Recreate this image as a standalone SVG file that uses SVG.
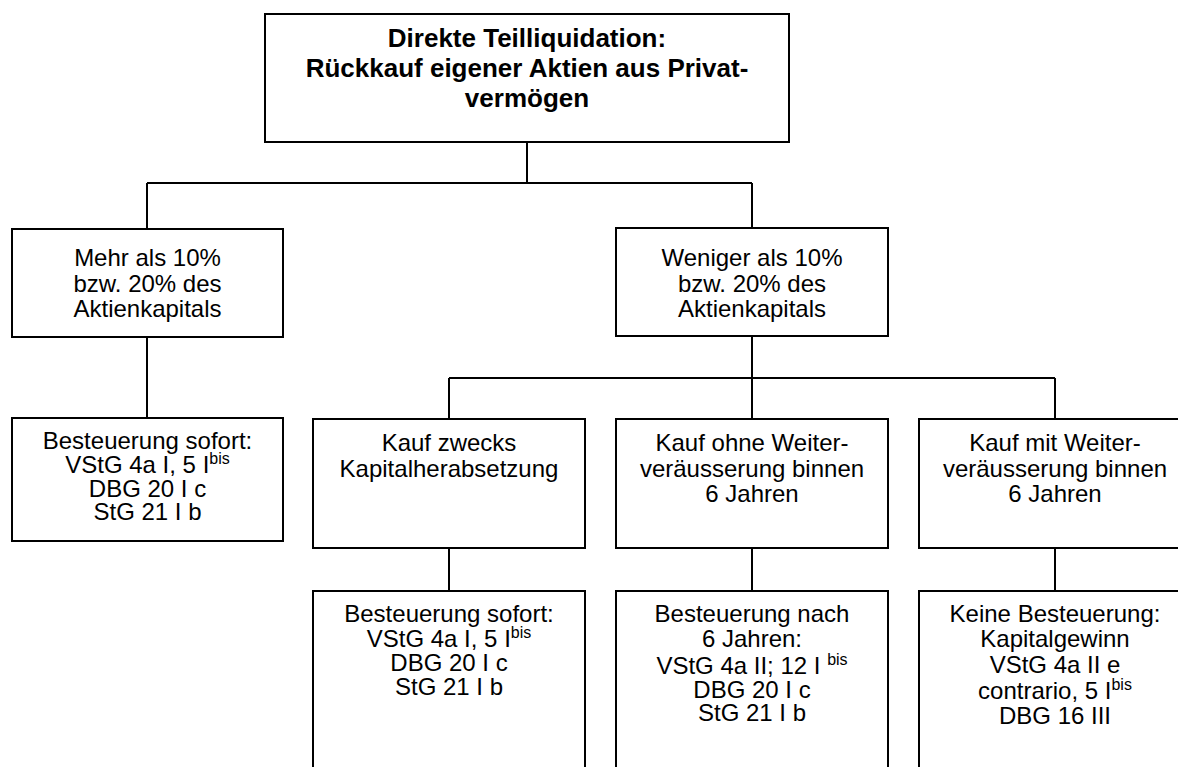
<svg xmlns="http://www.w3.org/2000/svg" width="1178" height="767" viewBox="0 0 1178 767">
<style>
.box{fill:#fff;stroke:#000;stroke-width:2}
.c{fill:none;stroke:#000;stroke-width:2}
text{font-family:"Liberation Sans",Arial,sans-serif;font-size:24px;fill:#000;text-anchor:middle}
.t{font-weight:bold;font-size:26px}
.sup{font-size:16px}
</style>
<rect width="1178" height="767" fill="#fff"/>
<g id="connectors">
<path class="c" d="M527 142V183M147 183H752M147 183V229M752 183V228M147 337V418M752 336V419M449 378H1055M449 378V419M1055 378V419M449 548V591M752 548V591M1055 548V591"/>
</g>
<g id="root">
<rect class="box" x="265" y="14" width="524" height="128"/>
<text class="t" x="527" y="47">Direkte Teilliquidation:</text>
<text class="t" x="527" y="77">Rückkauf eigener Aktien aus Privat-</text>
<text class="t" x="527" y="107">vermögen</text>
</g>
<g id="mehr">
<rect class="box" x="12" y="229" width="271" height="108"/>
<text x="147.5" y="266">Mehr als 10%</text>
<text x="147.5" y="292">bzw. 20% des</text>
<text x="147.5" y="317">Aktienkapitals</text>
</g>
<g id="weniger">
<rect class="box" x="616" y="228" width="272" height="108"/>
<text x="752" y="266">Weniger als 10%</text>
<text x="752" y="292">bzw. 20% des</text>
<text x="752" y="317">Aktienkapitals</text>
</g>
<g id="besteuerung-sofort-1">
<rect class="box" x="12" y="418" width="271" height="123"/>
<text x="147.5" y="449">Besteuerung sofort:</text>
<text x="147.5" y="473">VStG 4a I, 5 I<tspan class="sup" dy="-9">bis</tspan></text>
<text x="147.5" y="497">DBG 20 I c</text>
<text x="147.5" y="520">StG 21 I b</text>
</g>
<g id="kauf-zwecks">
<rect class="box" x="313" y="419" width="272" height="129"/>
<text x="449" y="451">Kauf zwecks</text>
<text x="449" y="477">Kapitalherabsetzung</text>
</g>
<g id="kauf-ohne">
<rect class="box" x="616" y="419" width="272" height="129"/>
<text x="752" y="451">Kauf ohne Weiter-</text>
<text x="752" y="477">veräusserung binnen</text>
<text x="752" y="502">6 Jahren</text>
</g>
<g id="kauf-mit">
<rect class="box" x="919" y="419" width="272" height="129"/>
<text x="1055" y="451">Kauf mit Weiter-</text>
<text x="1055" y="477">veräusserung binnen</text>
<text x="1055" y="502">6 Jahren</text>
</g>
<g id="besteuerung-sofort-2">
<rect class="box" x="313" y="591" width="272" height="220"/>
<text x="449" y="622">Besteuerung sofort:</text>
<text x="449" y="647">VStG 4a I, 5 I<tspan class="sup" dy="-9">bis</tspan></text>
<text x="449" y="671">DBG 20 I c</text>
<text x="449" y="695">StG 21 I b</text>
</g>
<g id="besteuerung-nach">
<rect class="box" x="616" y="591" width="272" height="220"/>
<text x="752" y="622">Besteuerung nach</text>
<text x="752" y="647">6 Jahren:</text>
<text x="752" y="674">VStG 4a II; 12 I <tspan class="sup" dy="-9">bis</tspan></text>
<text x="752" y="698">DBG 20 I c</text>
<text x="752" y="721">StG 21 I b</text>
</g>
<g id="keine-besteuerung">
<rect class="box" x="919" y="591" width="272" height="220"/>
<text x="1055" y="622">Keine Besteuerung:</text>
<text x="1055" y="647">Kapitalgewinn</text>
<text x="1055" y="673">VStG 4a II e</text>
<text x="1055" y="699">contrario, 5 I<tspan class="sup" dy="-9">bis</tspan></text>
<text x="1055" y="724">DBG 16 III</text>
</g>
</svg>
